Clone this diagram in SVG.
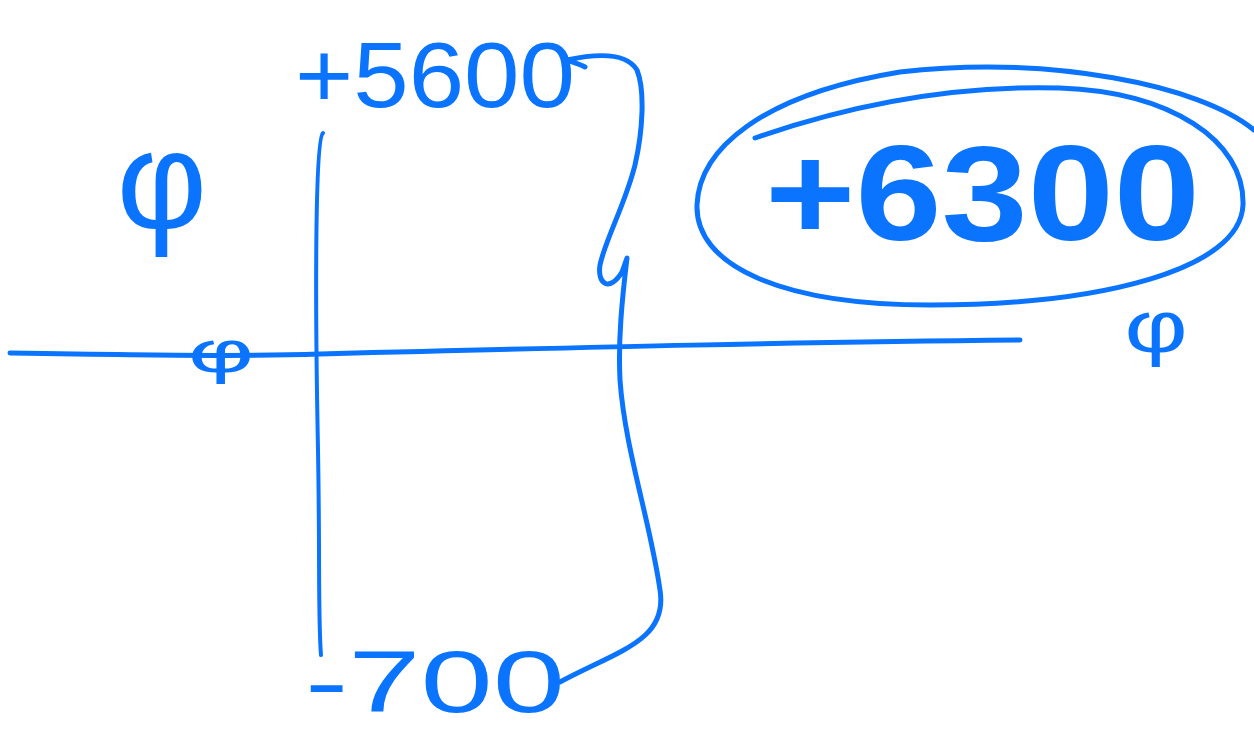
<svg xmlns="http://www.w3.org/2000/svg" width="1254" height="730" viewBox="0 0 1254 730">
<style>
.ink{fill:none;stroke:#0a74ff;stroke-linecap:round;stroke-linejoin:round}
.lbl{fill:#0a74ff;font-family:"Liberation Sans",Arial,sans-serif}
</style>
<rect width="1254" height="730" fill="#ffffff"/>
<g id="connectors">
<path class="ink" stroke-width="5" d="M10,353 C200,356 260,356 320,354 C600,347 800,342 1020,340"/>
<path class="ink" stroke-width="4" d="M323,133 C315,140 315,300 318,450 C320,560 318,620 321,655"/>
<path class="ink" stroke-width="5" d="M585,67 C578,63 568,61 567,60 C590,55 625,50 637,70 C645,90 643,130 635,165 C625,205 605,240 600,265 C597,285 610,292 622,272 L627,258 C622,300 618,340 620,380 C625,450 650,520 660,590 C668,640 620,650 560,682"/>
</g>
<g id="node-top">
<text class="lbl" x="295" y="107" font-size="92" textLength="280" lengthAdjust="spacingAndGlyphs">+5600</text>
</g>
<g id="node-bottom">
<text class="lbl" x="305" y="712" font-size="88" textLength="260" lengthAdjust="spacingAndGlyphs">-700</text>
</g>
<g id="node-result">
<path class="ink" stroke-width="5" d="M755,138 C850,105 950,85 1060,88 C1170,92 1245,140 1243,205 C1240,270 1100,305 930,305 C780,305 695,265 697,205 C699,150 760,95 900,72 C1050,55 1200,85 1254,130"/>
<text class="lbl" x="765" y="240" font-size="135" font-weight="bold" textLength="435" lengthAdjust="spacingAndGlyphs">+6300</text>
</g>
<g id="node-phi-left">
<text class="lbl" x="162" y="228" font-size="140" text-anchor="middle">φ</text>
</g>
<g id="node-phi-axis">
<text class="lbl" transform="translate(221,372) scale(1.7,1)" x="0" y="0" font-size="60" text-anchor="middle">φ</text>
</g>
<g id="node-phi-right">
<text class="lbl" transform="translate(1156,352) scale(1.3,1)" x="0" y="0" font-size="75" text-anchor="middle">φ</text>
</g>
</svg>
